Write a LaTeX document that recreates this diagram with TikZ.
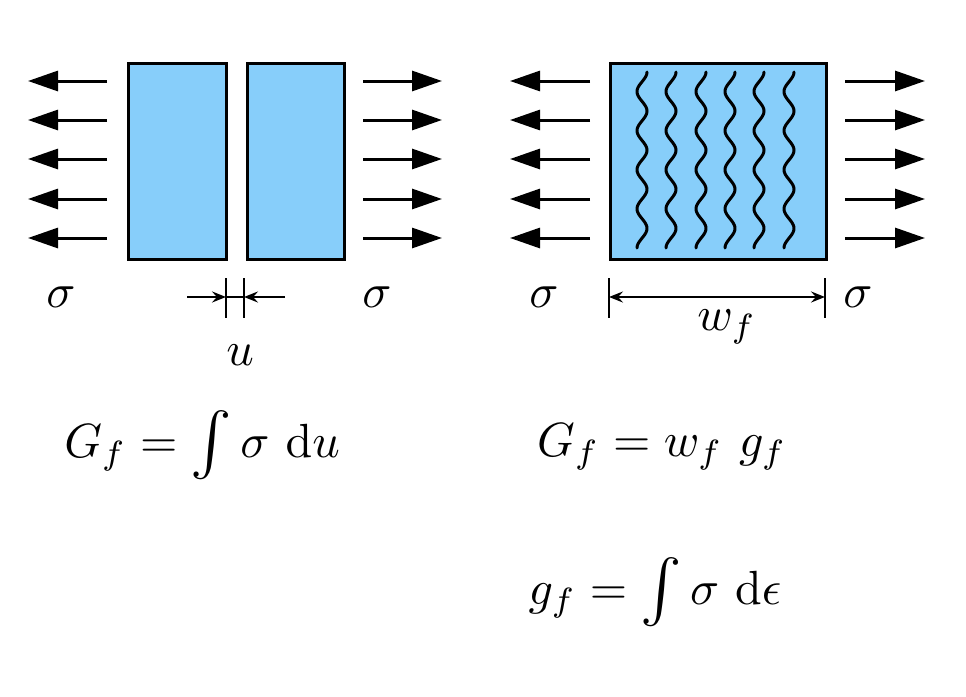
\documentclass[tikz,border=0pt]{standalone}
\usepackage{amsmath}
\usepackage{graphicx}
\usetikzlibrary{arrows.meta}
\definecolor{blockblue}{HTML}{87CEFA}
\newcommand{\bigint}{\mathop{\vcenter{\hbox{\scalebox{1.3}{$\textstyle\int$}}}}\nolimits}
\tikzset{
  block/.style={draw=black, fill=blockblue, line width=2.5pt},
  force/.style={line width=3pt, -{Triangle[length=30pt,width=20pt]}},
  tick/.style={line width=2.4pt},
  dim/.style={line width=2.4pt},
  lbl/.style={scale=4.8, inner sep=0pt},
  fibre/.style={line width=3pt, line cap=round},
}
\begin{document}
\begin{tikzpicture}[x=1pt,y=-1pt]
\useasboundingbox (0,0) rectangle (966,696);
% left blocks
\node[block, minimum width=98pt, minimum height=196pt, anchor=north west, inner sep=0pt] (b1) at (127,62) {};
\node[block, minimum width=97pt, minimum height=196pt, anchor=north west, inner sep=0pt] (b2) at (246,62) {};
% right block
\node[block, minimum width=216pt, minimum height=196pt, anchor=north west, inner sep=0pt] (b3) at (609,62) {};
% force arrows
\foreach \yy [count=\i] in {81,120,159,199,238}{
  \coordinate (la\i s) at (107,\yy); \coordinate (la\i e) at (28,\yy);
  \coordinate (ra\i s) at (363,\yy); \coordinate (ra\i e) at (442,\yy);
  \coordinate (lb\i s) at (590,\yy); \coordinate (lb\i e) at (510,\yy);
  \coordinate (rb\i s) at (845,\yy); \coordinate (rb\i e) at (925,\yy);
  \draw[force] (la\i s) -- (la\i e);
  \draw[force] (ra\i s) -- (ra\i e);
  \draw[force] (lb\i s) -- (lb\i e);
  \draw[force] (rb\i s) -- (rb\i e);
}
% fibres
\foreach \xx in {643,672,702,731,760,790}{
  \draw[fibre, domain=0:176, samples=150, smooth, variable=\t]
    plot ({\xx-1+5*cos(\t/39.1*360)}, {72+\t});
}
% u dimension
\coordinate (t1a) at (226,278); \coordinate (t1b) at (226,318);
\coordinate (t2a) at (244,278); \coordinate (t2b) at (244,318);
\draw[tick] (t1a) -- (t1b);
\draw[tick] (t2a) -- (t2b);
\coordinate (ua) at (187,297); \coordinate (ub) at (226,297);
\coordinate (uc) at (285,297); \coordinate (ud) at (244,297);
\draw[dim, -{Stealth[length=14pt,width=11pt,inset=5pt]}] (ua) -- (ub);
\draw[dim, -{Stealth[length=14pt,width=11pt,inset=5pt]}] (uc) -- (ud);
\draw[dim] (ub) -- (ud);
\node[lbl] (u) at (240,355) {$u$};
% w_f dimension
\coordinate (t3a) at (609,278); \coordinate (t3b) at (609,318);
\coordinate (t4a) at (825,278); \coordinate (t4b) at (825,318);
\draw[tick] (t3a) -- (t3b);
\draw[tick] (t4a) -- (t4b);
\coordinate (wa) at (609,297); \coordinate (wb) at (825,297);
\draw[dim, {Stealth[length=14pt,width=11pt,inset=5pt]}-{Stealth[length=14pt,width=11pt,inset=5pt]}] (wa) -- (wb);
\node[lbl] (wf) at (727,327) {$w_f$};
% sigma labels
\node[lbl] (s1) at (61,297) {$\sigma$};
\node[lbl] (s2) at (377,297) {$\sigma$};
\node[lbl] (s3) at (544,297) {$\sigma$};
\node[lbl] (s4) at (858,297) {$\sigma$};
% equations
\node[lbl] (e1) at (202,445) {$G_f=\bigint\sigma\ \mathrm{d}u$};
\node[lbl] (e2) at (662,447) {$G_f=w_f\ g_f$};
\node[lbl] (e3) at (655,592) {$g_f=\bigint\sigma\ \mathrm{d}\epsilon$};
\end{tikzpicture}
\end{document}
